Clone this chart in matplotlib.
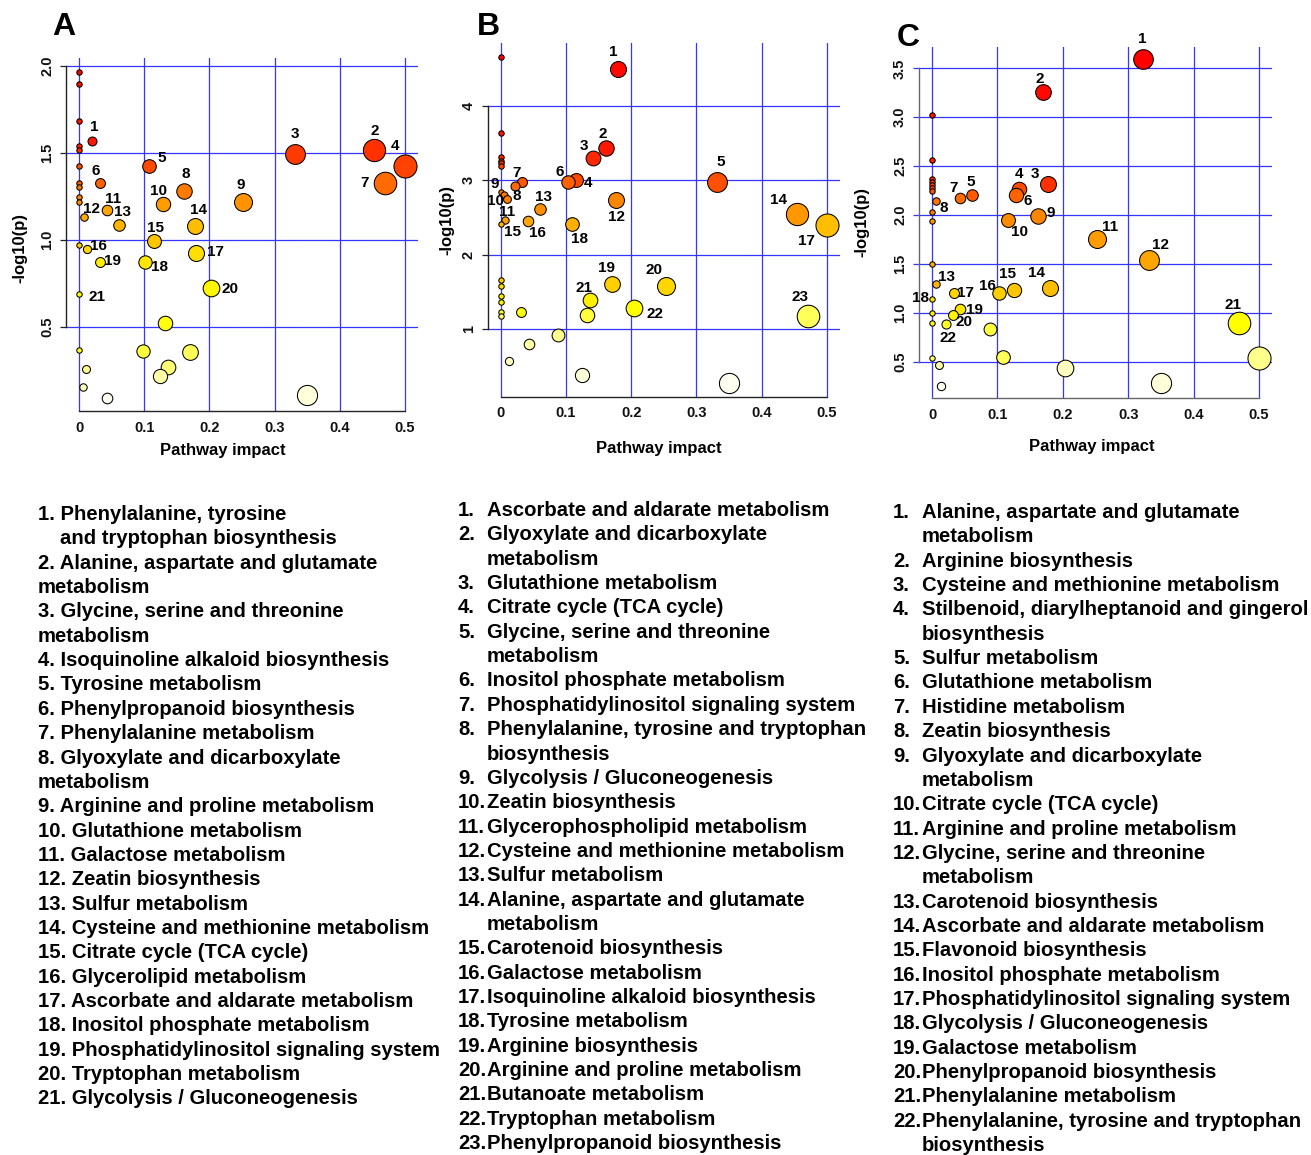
import numpy as np
import matplotlib
matplotlib.use("Agg")
import matplotlib.pyplot as plt
from matplotlib.colors import hsv_to_rgb

W, H = 1311, 1155
plt.rcParams['font.family'] = ['Liberation Sans', 'DejaVu Sans']
plt.rcParams['font.weight'] = 'bold'

# ---------------- Panel A ----------------
A_impact = [0.0204, 0.4527, 0.3315, 0.5, 0.108, 0.0316, 0.470, 0.1614, 0.252, 0.1288,
            0.0423, 0.0071, 0.0606, 0.1777, 0.115, 0.0127, 0.1797, 0.1013, 0.032, 0.203,
            0.0,
            0.0, 0.0, 0.0, 0.0, 0.0, 0.0, 0.0, 0.0, 0.0, 0.0, 0.0, 0.0,
            0.132, 0.0988, 0.170, 0.137, 0.1247, 0.0102, 0.0066, 0.0428, 0.349]
A_logp = [1.571, 1.516, 1.497, 1.426, 1.426, 1.327, 1.325, 1.284, 1.217, 1.209,
          1.175, 1.132, 1.084, 1.081, 0.994, 0.950, 0.925, 0.871, 0.871, 0.726,
          0.691,
          1.967, 1.897, 1.684, 1.540, 1.517, 1.425, 1.330, 1.307, 1.245, 1.220, 0.973, 0.367,
          0.524, 0.363, 0.355, 0.271, 0.221, 0.259, 0.157, 0.090, 0.111]
A_ticks_y = [0.5, 1.0, 1.5, 2.0]
A_ticklabels_y = ['0.5', '1.0', '1.5', '2.0']
A_names = ["Phenylalanine, tyrosine\nand tryptophan biosynthesis",
           "Alanine, aspartate and glutamate\nmetabolism",
           "Glycine, serine and threonine\nmetabolism",
           "Isoquinoline alkaloid biosynthesis",
           "Tyrosine metabolism",
           "Phenylpropanoid biosynthesis",
           "Phenylalanine metabolism",
           "Glyoxylate and dicarboxylate\nmetabolism",
           "Arginine and proline metabolism",
           "Glutathione metabolism",
           "Galactose metabolism",
           "Zeatin biosynthesis",
           "Sulfur metabolism",
           "Cysteine and methionine metabolism",
           "Citrate cycle (TCA cycle)",
           "Glycerolipid metabolism",
           "Ascorbate and aldarate metabolism",
           "Inositol phosphate metabolism",
           "Phosphatidylinositol signaling system",
           "Tryptophan metabolism",
           "Glycolysis / Gluconeogenesis"]

# ---------------- Panel B ----------------
B_impact = [0.1796, 0.1607, 0.1413, 0.1158, 0.3316, 0.1026, 0.0332, 0.0215, 0.0, 0.005,
            0.0092, 0.177, 0.0602, 0.4536, 0.006, 0.0423, 0.5, 0.1087, 0.1704, 0.253,
            0.137, 0.204, 0.471,
            0.0, 0.0, 0.0, 0.0, 0.0, 0.0, 0.0, 0.0, 0.0, 0.0, 0.0, 0.0, 0.0,
            0.0317, 0.132, 0.088, 0.043, 0.0128, 0.124, 0.35]
B_logp = [4.493, 3.435, 3.296, 3.000, 2.982, 2.978, 2.982, 2.924, 2.848, 2.798,
          2.749, 2.731, 2.614, 2.552, 2.466, 2.448, 2.404, 2.408, 1.601, 1.578,
          1.386, 1.278, 1.179,
          4.659, 3.641, 3.318, 3.265, 3.229, 3.193, 2.408, 1.659, 1.574, 1.444, 1.363, 1.224, 1.179,
          1.229, 1.193, 0.924, 0.798, 0.574, 0.377, 0.269]
B_ticks_y = [1, 2, 3, 4]
B_ticklabels_y = ['1', '2', '3', '4']
B_names = ["Ascorbate and aldarate metabolism",
           "Glyoxylate and dicarboxylate\nmetabolism",
           "Glutathione metabolism",
           "Citrate cycle (TCA cycle)",
           "Glycine, serine and threonine\nmetabolism",
           "Inositol phosphate metabolism",
           "Phosphatidylinositol signaling system",
           "Phenylalanine, tyrosine and tryptophan\nbiosynthesis",
           "Glycolysis / Gluconeogenesis",
           "Zeatin biosynthesis",
           "Glycerophospholipid metabolism",
           "Cysteine and methionine metabolism",
           "Sulfur metabolism",
           "Alanine, aspartate and glutamate\nmetabolism",
           "Carotenoid biosynthesis",
           "Galactose metabolism",
           "Isoquinoline alkaloid biosynthesis",
           "Tyrosine metabolism",
           "Arginine biosynthesis",
           "Arginine and proline metabolism",
           "Butanoate metabolism",
           "Tryptophan metabolism",
           "Phenylpropanoid biosynthesis"]

# ---------------- Panel C ----------------
C_impact = [0.3233, 0.1696, 0.1777, 0.1324, 0.0606, 0.1283, 0.0423, 0.0066, 0.1614, 0.1156,
            0.2525, 0.3325, 0.0066, 0.1797, 0.125, 0.103, 0.033, 0.0, 0.0433, 0.0316,
            0.470, 0.0219,
            0.0, 0.0, 0.0, 0.0, 0.0, 0.0, 0.0, 0.0, 0.0, 0.0, 0.0, 0.0, 0.0,
            0.0882, 0.1086, 0.5, 0.0102, 0.2037, 0.0138, 0.35]
C_logp = [3.595, 3.261, 2.313, 2.262, 2.208, 2.204, 2.177, 2.146, 1.990, 1.949,
          1.758, 1.543, 1.296, 1.257, 1.231, 1.204, 1.201, 1.143, 1.044, 0.976,
          0.892, 0.881,
          3.023, 2.566, 2.370, 2.340, 2.310, 2.280, 2.250, 2.034, 1.942, 1.500, 1.000, 0.891, 0.537,
          0.833, 0.544, 0.534, 0.469, 0.431, 0.255, 0.281]
C_ticks_y = [0.5, 1.0, 1.5, 2.0, 2.5, 3.0, 3.5]
C_ticklabels_y = ['0.5', '1.0', '1.5', '2.0', '2.5', '3.0', '3.5']
C_names = ["Alanine, aspartate and glutamate\nmetabolism",
           "Arginine biosynthesis",
           "Cysteine and methionine metabolism",
           "Stilbenoid, diarylheptanoid and gingerol\nbiosynthesis",
           "Sulfur metabolism",
           "Glutathione metabolism",
           "Histidine metabolism",
           "Zeatin biosynthesis",
           "Glyoxylate and dicarboxylate\nmetabolism",
           "Citrate cycle (TCA cycle)",
           "Arginine and proline metabolism",
           "Glycine, serine and threonine\nmetabolism",
           "Carotenoid biosynthesis",
           "Ascorbate and aldarate metabolism",
           "Flavonoid biosynthesis",
           "Inositol phosphate metabolism",
           "Phosphatidylinositol signaling system",
           "Glycolysis / Gluconeogenesis",
           "Galactose metabolism",
           "Phenylpropanoid biosynthesis",
           "Phenylalanine metabolism",
           "Phenylalanine, tyrosine and tryptophan\nbiosynthesis"]

x_ticks = [0, 0.1, 0.2, 0.3, 0.4, 0.5]
x_ticklabels = ['0', '0.1', '0.2', '0.3', '0.4', '0.5']

# Label offsets (pixels; +x right, +y down) for the numbered bubbles
A_offsets = [(2, -14), (1, -19), (0, -20), (-10, -20), (12, -8), (-4, -12), (-21, 0),
             (2, -17), (-3, -17), (-4, -13), (6, -11), (8, -8), (4, -13), (4, -16),
             (2, -13), (11, -3), (19, -1), (14, 5), (13, -1), (19, 1), (18, 3)]
B_offsets = [(-5, -17), (-3, -14), (-9, -12), (12, 3), (4, -20), (-8, -10), (-6, -9),
             (2, 10), (-6, -8), (-9, 6), (0, 13), (0, 17), (3, -12), (-18, -14),
             (8, 12), (9, 12), (-21, 16), (8, 15), (-5, -16), (-12, -16), (-6, -12),
             (21, 6), (-8, -19)]
C_offsets = [(-1, -20), (-3, -13), (-13, -10), (0, -15), (-1, -13), (12, 6), (-6, -10),
             (7, 7), (13, -3), (12, 12), (13, -12), (11, -15), (10, -7), (-13, -15),
             (-6, -16), (-12, -7), (12, 0), (-12, -1), (14, 1), (11, 7), (-6, -18),
             (2, 14)]


def heat_colors(n):
    """R-style heat.colors palette: red -> yellow, then fading to white."""
    j = n // 4
    i = n - j
    cols = [hsv_to_rgb((h, 1.0, 1.0)) for h in np.linspace(0, 1 / 6, i)]
    if j > 0:
        for s in np.linspace(1 - 1 / (2 * j), 1 / (2 * j), j):
            cols.append(hsv_to_rgb((1 / 6, s, 1.0)))
    return cols


fig = plt.figure(figsize=(W / 100, H / 100), dpi=100)


def px_axes(left, top, right, bottom):
    return fig.add_axes([left / W, 1 - bottom / H, (right - left) / W, (bottom - top) / H])


def ftext(x, y, s, **kw):
    return fig.text(x / W, 1 - y / H, s, **kw)


GRID = '#3535ff'


def panel(box, ylim, yticks, yticklabels, impact, logp, offsets, spine_col, tick_col):
    ax = px_axes(*box)
    ax.set_xlim(-0.02, 0.52)
    ax.set_ylim(*ylim)
    ax.set_xticks(x_ticks)
    ax.set_xticklabels(x_ticklabels)
    ax.set_yticks(yticks)
    ax.set_yticklabels(yticklabels, rotation=90, va='center')
    ax.grid(True, color=GRID, lw=0.9)
    ax.set_axisbelow(True)
    for s in ('top', 'right'):
        ax.spines[s].set_visible(False)
    ax.spines['left'].set_bounds(yticks[0], yticks[-1])
    ax.spines['bottom'].set_bounds(0, 0.5)
    for s in ('left', 'bottom'):
        ax.spines[s].set_color(spine_col)
        ax.spines[s].set_linewidth(1.0)
    ax.tick_params(axis='y', length=4.5, width=0.9, color=tick_col, pad=4,
                   labelsize=10.5, labelcolor='#111111')
    ax.tick_params(axis='x', length=0, pad=7, labelsize=10.5, labelcolor='#111111')
    for t in ax.get_xticklabels() + ax.get_yticklabels():
        t.set_fontweight('bold')

    impact = np.asarray(impact)
    logp = np.asarray(logp)
    n = len(logp)
    order = np.argsort(-logp, kind='stable')
    cols = heat_colors(n)
    r_px = 2.7 + 12.5 * np.sqrt(impact)
    sizes = (2 * r_px * 0.72) ** 2
    for rank, idx in enumerate(order):
        ax.scatter(impact[idx], logp[idx], s=sizes[idx], color=cols[rank],
                   edgecolors='black', linewidths=0.75, zorder=3 + rank * 0.01,
                   clip_on=False)
    for k, (dx, dy) in enumerate(offsets):
        ax.annotate(str(k + 1), (impact[k], logp[k]), xytext=(dx, -dy),
                    textcoords='offset pixels', ha='center', va='center',
                    fontsize=11, fontweight='bold', zorder=10,
                    annotation_clip=False)
    return ax


panel((66, 58, 418, 411), (0.0172, 2.046), A_ticks_y, A_ticklabels_y,
      A_impact, A_logp, A_offsets, '#222222', '#222222')
panel((487.7, 43.3, 840, 396.7), (0.089, 4.8435), B_ticks_y, B_ticklabels_y,
      B_impact, B_logp, B_offsets, '#222222', '#222222')
panel((919, 46.7, 1272, 398.3), (0.126, 3.721), C_ticks_y, C_ticklabels_y,
      C_impact, C_logp, C_offsets, '#666666', GRID)

# Panel letters and axis titles
for (x, y, s) in [(64, 27, 'A'), (488, 27, 'B'), (908, 38, 'C')]:
    ftext(x, y, s, fontsize=23, fontweight='bold', ha='center', va='center')
for (x, y) in [(223, 451), (659, 448), (1092, 447)]:
    ftext(x, y, 'Pathway impact', fontsize=12, fontweight='bold', ha='center', va='center')
for (x, y) in [(20, 248), (447, 220), (862, 222)]:
    ftext(x, y, '-log10(p)', fontsize=12, fontweight='bold', ha='center', va='center',
          rotation=90)

# Pathway name lists
LINE = 24.35
LIST_FS = 14.6

# Column A: number and name in one run; item 1 wraps with a hanging indent
y = 520
for k, name in enumerate(A_names):
    lines = name.split('\n')
    ftext(38, y, f"{k + 1}. {lines[0]}", fontsize=LIST_FS, fontweight='bold',
          va='baseline', ha='left')
    y += LINE
    for ln in lines[1:]:
        ftext(60 if k == 0 else 38, y, ln, fontsize=LIST_FS, fontweight='bold',
              va='baseline', ha='left')
        y += LINE


def list_column(names, x_num, x_txt, y0):
    y = y0
    for k, name in enumerate(names):
        ftext(x_num, y, f"{k + 1}.", fontsize=LIST_FS, fontweight='bold',
              va='baseline', ha='left')
        for ln in name.split('\n'):
            ftext(x_txt, y, ln, fontsize=LIST_FS, fontweight='bold',
                  va='baseline', ha='left')
            y += LINE


list_column(B_names, 458, 487, 516)
list_column(C_names, 893, 922, 518)

fig.savefig('out.png', dpi=100)
